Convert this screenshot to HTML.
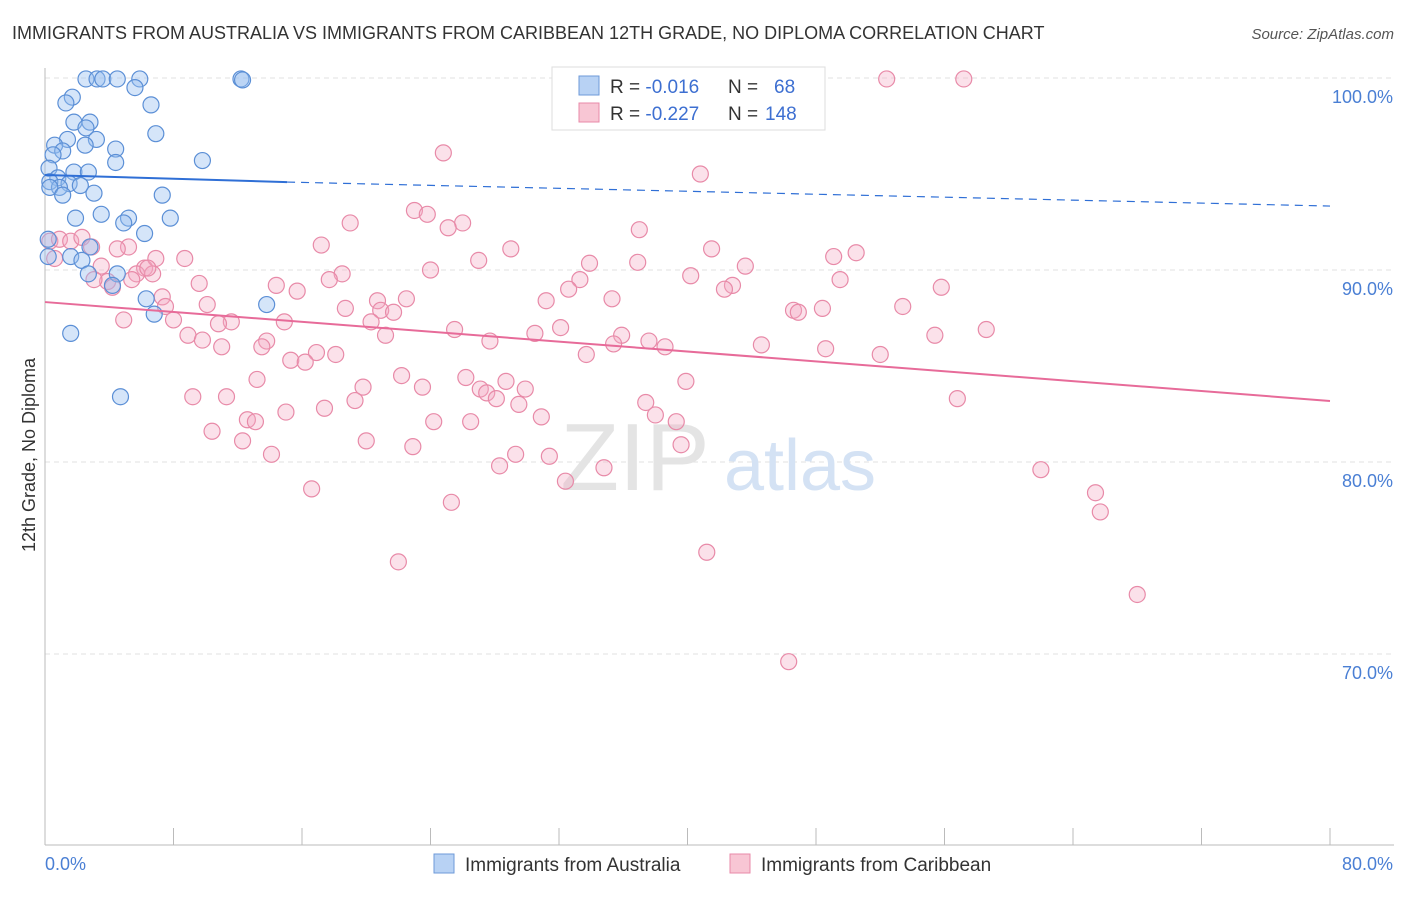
<!DOCTYPE html>
<html><head><meta charset="utf-8"><style>
body{margin:0;background:#fff;font-family:"Liberation Sans",sans-serif;}
svg text{font-family:"Liberation Sans",sans-serif;}
</style></head><body>
<svg id="chart" width="1406" height="892" xmlns="http://www.w3.org/2000/svg">
<text x="12" y="39" font-size="18" fill="#333">IMMIGRANTS FROM AUSTRALIA VS IMMIGRANTS FROM CARIBBEAN 12TH GRADE, NO DIPLOMA CORRELATION CHART</text>
<text x="1394" y="39" font-size="15" fill="#555" font-style="italic" text-anchor="end">Source: ZipAtlas.com</text>
<g id="grid"></g>
<g>
<text x="635" y="490" font-size="96" fill="#e4e4e4" font-family="Liberation Serif" text-anchor="middle">ZIP</text>
<text x="800" y="490" font-size="72" fill="#d4e2f4" text-anchor="middle">atlas</text>
</g>
<g id="axes"></g>
<g id="pts"></g>
<g id="trends"></g>
<text transform="translate(35,455) rotate(-90)" font-size="18" fill="#333" text-anchor="middle">12th Grade, No Diploma</text>
<g>
<rect x="552" y="67" width="273" height="63" fill="#fff" stroke="#ddd"/>
<rect x="579" y="76" width="20" height="19" fill="#b8d2f4" stroke="#6e9ad8"/>
<rect x="579" y="103" width="20" height="19" fill="#f8c6d4" stroke="#e88aa8"/>
<text x="610" y="93" font-size="19" fill="#333">R = <tspan fill="#3d6fd1">-0.016</tspan><tspan x="728">N = </tspan><tspan x="774" fill="#3d6fd1">68</tspan></text>
<text x="610" y="120" font-size="19" fill="#333">R = <tspan fill="#3d6fd1">-0.227</tspan><tspan x="728">N = </tspan><tspan x="765" fill="#3d6fd1">148</tspan></text>
</g>
<g>
<rect x="434" y="854" width="20" height="19" fill="#b8d2f4" stroke="#6e9ad8"/>
<text x="465" y="871" font-size="19" fill="#333">Immigrants from Australia</text>
<rect x="730" y="854" width="20" height="19" fill="#f8c6d4" stroke="#e88aa8"/>
<text x="761" y="871" font-size="19" fill="#333">Immigrants from Caribbean</text>
</g>
</svg>
<script>
const xTicks=[0,8,16,24,32,40,48,56,64,72,80];
const yTicks=[70,80,90,100];
const yTickLabels=["70.0%","80.0%","90.0%","100.0%"];
const xTickLabels=["0.0%","80.0%"];
const blueX=[2.55,3.24,3.6,4.5,5.9,12.2,12.3,5.6,1.7,1.3,6.6,2.8,1.8,2.55,6.9,1.4,3.2,0.6,2.5,4.4,1.1,0.5,9.8,4.4,0.25,1.8,2.7,0.8,0.3,1.5,2.2,0.9,0.3,3.05,7.3,1.1,3.5,1.9,5.2,7.8,4.9,6.2,0.2,2.8,0.2,1.6,2.3,2.7,4.5,4.2,6.3,13.8,6.8,1.6,4.7];
const blueY=[99.95,99.95,99.95,99.95,99.95,99.95,99.9,99.5,99.0,98.7,98.6,97.7,97.7,97.4,97.1,96.8,96.8,96.5,96.5,96.3,96.2,96.0,95.7,95.6,95.3,95.1,95.1,94.8,94.6,94.5,94.4,94.3,94.3,94.0,93.9,93.9,92.9,92.7,92.7,92.7,92.45,91.9,91.6,91.2,90.7,90.7,90.5,89.8,89.8,89.2,88.5,88.2,87.7,86.7,83.4];
const pinkX=[52.4,57.2,24.8,40.8,23.0,23.8,19.0,26.0,25.1,37.0,17.2,29.0,41.5,50.5,49.1,8.7,27.0,36.9,33.9,43.6,24.0,18.5,17.7,40.2,49.5,33.3,9.6,14.4,42.8,42.3,55.8,32.6,15.7,35.3,22.5,20.7,31.2,10.1,18.7,20.9,21.7,48.4,53.4,46.6,46.9,20.3,11.6,10.8,14.9,32.1,58.6,25.5,30.5,8.9,21.2,35.9,55.4,37.6,27.7,9.8,13.8,35.4,38.6,11.0,13.5,44.6,48.6,33.7,52.0,18.1,16.9,15.3,16.2,22.2,13.2,26.2,28.7,39.9,27.1,29.9,19.8,23.5,27.5,9.2,11.3,28.1,19.3,37.4,56.8,29.5,17.4,15.0,38.0,30.9,24.2,26.5,39.3,12.6,13.1,10.4,20.0,12.3,22.9,39.6,29.3,31.4,14.1,28.3,34.8,62.0,32.4,16.6,65.4,25.3,65.7,41.2,22.0,68.0,46.3,0.3,0.9,1.6,2.3,2.9,0.6,3.5,5.2,4.5,6.2,5.7,6.7,3.9,5.4,3.05,4.2,7.3,7.5,8.0,4.9,6.9,6.4];
const pinkY=[99.95,99.95,96.1,95.0,93.1,92.9,92.45,92.45,92.2,92.1,91.3,91.1,91.1,90.9,90.7,90.6,90.5,90.4,90.35,90.2,90.0,89.8,89.5,89.7,89.5,89.5,89.3,89.2,89.2,89.0,89.1,89.0,88.9,88.5,88.5,88.4,88.4,88.2,88.0,87.9,87.8,88.0,88.1,87.9,87.8,87.3,87.3,87.2,87.3,87.0,86.9,86.9,86.7,86.6,86.6,86.6,86.6,86.3,86.3,86.35,86.3,86.15,86.0,86.0,86.0,86.1,85.9,85.6,85.6,85.6,85.7,85.3,85.2,84.5,84.3,84.4,84.2,84.2,83.8,83.8,83.9,83.9,83.6,83.4,83.4,83.3,83.2,83.1,83.3,83.0,82.8,82.6,82.45,82.35,82.1,82.1,82.1,82.2,82.1,81.6,81.1,81.1,80.8,80.9,80.4,80.3,80.4,79.8,79.7,79.6,79.0,78.6,78.4,77.9,77.4,75.3,74.8,73.1,69.6,91.5,91.6,91.5,91.7,91.2,90.6,90.2,91.2,91.1,90.1,89.8,89.8,89.4,89.5,89.5,89.1,88.6,88.1,87.4,87.4,90.6,90.1];
const blueTrendX=[0,15.07,80];
const blueTrendY=[94.95,94.58,93.33];
const pinkTrendX=[0,80];
const pinkTrendY=[88.33,83.18];
const NS="http://www.w3.org/2000/svg";
const sx=v=>45+v*(1285/80);
const sy=v=>78+(100-v)*19.2;
function mk(tag,parent,attrs){const e=document.createElementNS(NS,tag);for(const k in attrs)e.setAttribute(k,attrs[k]);parent.appendChild(e);return e;}
const grid=document.getElementById('grid'),axes=document.getElementById('axes'),pts=document.getElementById('pts'),tr=document.getElementById('trends');
yTicks.forEach((t,i)=>{
 const l=mk('line',grid,{x1:45,x2:1394,y1:sy(t),y2:sy(t),stroke:'#e2e2e2','stroke-dasharray':'5,4'});
 
 
 const tx=mk('text',axes,{x:1393,y:sy(t)+25,'font-size':18,fill:'#4a7fd4','text-anchor':'end'});
 tx.textContent=yTickLabels[i];
 
 
});
const ax=mk('line',axes,{x1:45,x2:1394,y1:845,y2:845,stroke:'#bbb'});


const ay=mk('line',axes,{x1:45,x2:45,y1:68,y2:845,stroke:'#bbb'});


xTicks.forEach(t=>{
 const l=mk('line',axes,{x1:sx(t),x2:sx(t),y1:828,y2:845,stroke:'#bbb'});
 
 
});
const xl0=mk('text',axes,{x:45,y:870,'font-size':18,fill:'#4a7fd4'});xl0.textContent=xTickLabels[0];


const xl1=mk('text',axes,{x:1393,y:870,'font-size':18,fill:'#4a7fd4','text-anchor':'end'});xl1.textContent=xTickLabels[1];


pinkX.forEach((v,i)=>{
 const c=mk('circle',pts,{cx:sx(v),cy:sy(pinkY[i]),r:8,fill:'rgba(244,170,194,0.35)',stroke:'#e88aa8','stroke-width':1.2});
 
 
});
blueX.forEach((v,i)=>{
 const c=mk('circle',pts,{cx:sx(v),cy:sy(blueY[i]),r:8,fill:'rgba(150,190,240,0.4)',stroke:'#5b8fd6','stroke-width':1.2});
 
 
});
const b1=mk('line',tr,{x1:sx(blueTrendX[0]),y1:sy(blueTrendY[0]),x2:sx(blueTrendX[1]),y2:sy(blueTrendY[1]),stroke:'#2f6fd6','stroke-width':2});


const b2=mk('line',tr,{x1:sx(blueTrendX[1]),y1:sy(blueTrendY[1]),x2:sx(blueTrendX[2]),y2:sy(blueTrendY[2]),stroke:'#2f6fd6','stroke-width':1.2,'stroke-dasharray':'8,6'});


const p1=mk('line',tr,{x1:sx(pinkTrendX[0]),y1:sy(pinkTrendY[0]),x2:sx(pinkTrendX[1]),y2:sy(pinkTrendY[1]),stroke:'#e76b99','stroke-width':2});


</script>
</body></html>
